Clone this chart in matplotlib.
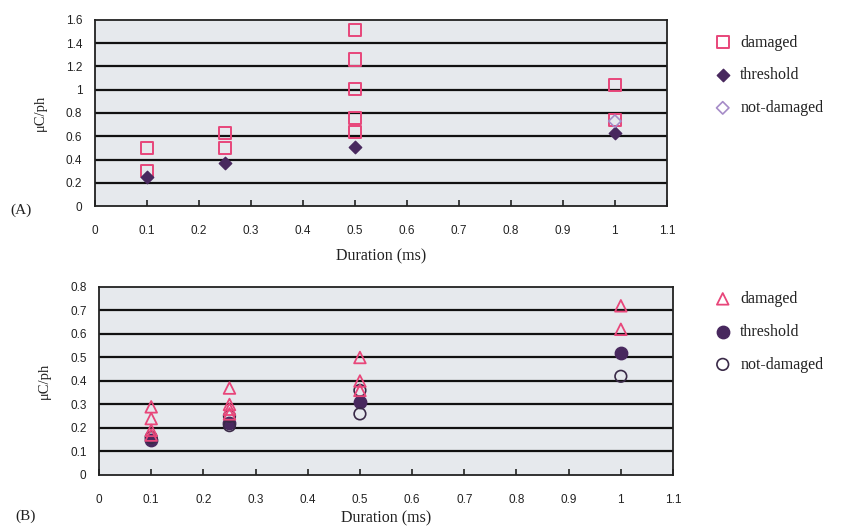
import matplotlib.pyplot as plt
from matplotlib.ticker import FuncFormatter

# Panel A data (duration in ms, charge in uC/ph)
a_damaged_x = [0.1, 0.1, 0.25, 0.25, 0.5, 0.5, 0.5, 0.5, 0.5, 1.0, 1.0]
a_damaged_y = [0.50, 0.30, 0.63, 0.50, 1.51, 1.26, 1.01, 0.76, 0.64, 1.04, 0.74]
a_threshold_x = [0.1, 0.25, 0.5, 1.0]
a_threshold_y = [0.25, 0.37, 0.51, 0.63]
a_notdamaged_x = [1.0]
a_notdamaged_y = [0.73]

# Panel B data
b_damaged_x = [0.1, 0.1, 0.1, 0.1, 0.25, 0.25, 0.25, 0.25, 0.5, 0.5, 0.5, 1.0, 1.0]
b_damaged_y = [0.29, 0.24, 0.19, 0.17, 0.37, 0.30, 0.28, 0.26, 0.50, 0.40, 0.36, 0.72, 0.62]
b_threshold_x = [0.1, 0.25, 0.5, 1.0]
b_threshold_y = [0.15, 0.22, 0.31, 0.52]
b_notdamaged_x = [0.1, 0.25, 0.25, 0.5, 0.5, 1.0]
b_notdamaged_y = [0.16, 0.25, 0.21, 0.36, 0.26, 0.42]

x_ticks = [0, 0.1, 0.2, 0.3, 0.4, 0.5, 0.6, 0.7, 0.8, 0.9, 1.0, 1.1]

red = '#e8467a'
dark = '#48285e'
light = '#a68cc8'
bg = '#e6e9ed'
serif = 'Liberation Serif'
sans = 'Liberation Sans'

fig = plt.figure(figsize=(8.47, 5.30), dpi=100)
axA = fig.add_axes([0.112, 0.6113, 0.6753, 0.351])
axB = fig.add_axes([0.1169, 0.1038, 0.6777, 0.3547])


def style(ax, ymax, ystep, xpad):
    ax.set_facecolor(bg)
    ax.set_xlim(0, 1.1)
    ax.set_ylim(0, ymax)
    n = int(round(ymax / ystep))
    yt = [round(i * ystep, 2) for i in range(n + 1)]
    ax.set_yticks(yt)
    for v in yt[1:-1]:
        ax.axhline(v, color='#111111', lw=1.6, zorder=1)
    ax.set_xticks(x_ticks)
    ax.xaxis.set_major_formatter(FuncFormatter(lambda v, p: '%g' % round(v, 2)))
    ax.yaxis.set_major_formatter(FuncFormatter(lambda v, p: '%g' % round(v, 2)))
    ax.tick_params(axis='x', direction='in', length=4, width=1.2, pad=14,
                   labelsize=8.5, colors='#222222')
    ax.tick_params(axis='y', length=0, pad=9, labelsize=8.5, colors='#222222')
    for lab in ax.get_xticklabels() + ax.get_yticklabels():
        lab.set_fontfamily(sans)
    for s in ax.spines.values():
        s.set_linewidth(1.3)
        s.set_color('#222222')
    ax.set_xlabel('Duration (ms)', fontsize=11.5, family=serif, color='#222222', labelpad=xpad)
    ax.set_ylabel('μC/ph', fontsize=10.5, family=serif, color='#222222', labelpad=14)


style(axA, 1.6, 0.2, 8)
style(axB, 0.8, 0.1, 3)

# Panel A
axA.scatter(a_damaged_x, a_damaged_y, marker='s', s=75, facecolors='none',
            edgecolors=red, linewidths=1.4, zorder=3, label='damaged')
axA.scatter(a_threshold_x, a_threshold_y, marker='D', s=40, color=dark,
            zorder=4, label='threshold')
axA.scatter(a_notdamaged_x, a_notdamaged_y, marker='D', s=40, facecolors='none',
            edgecolors=light, linewidths=1.2, zorder=4, label='not-damaged')

# Panel B
axB.scatter(b_damaged_x, b_damaged_y, marker='^', s=70, facecolors='none',
            edgecolors=red, linewidths=1.3, zorder=4, label='damaged')
axB.scatter(b_threshold_x, b_threshold_y, marker='o', s=80, color=dark,
            zorder=3, label='threshold')
axB.scatter(b_notdamaged_x, b_notdamaged_y, marker='o', s=70, facecolors='none',
            edgecolors='#3a2a48', linewidths=1.2, zorder=3, label='not-damaged')

for ax, y in [(axA, 0.962), (axB, 0.478)]:
    leg = ax.legend(loc='upper left', bbox_to_anchor=(0.825, y),
                    bbox_transform=fig.transFigure, frameon=False,
                    prop={'family': serif, 'size': 11.5}, labelspacing=1.05,
                    handletextpad=0.5, handlelength=1.2)
    for t in leg.get_texts():
        t.set_color('#222222')

fig.text(0.012, 0.597, '(A)', fontsize=11, family=serif, color='#222222')
fig.text(0.018, 0.020, '(B)', fontsize=11, family=serif, color='#222222')

fig.savefig('out.png', dpi=100, facecolor='white')
